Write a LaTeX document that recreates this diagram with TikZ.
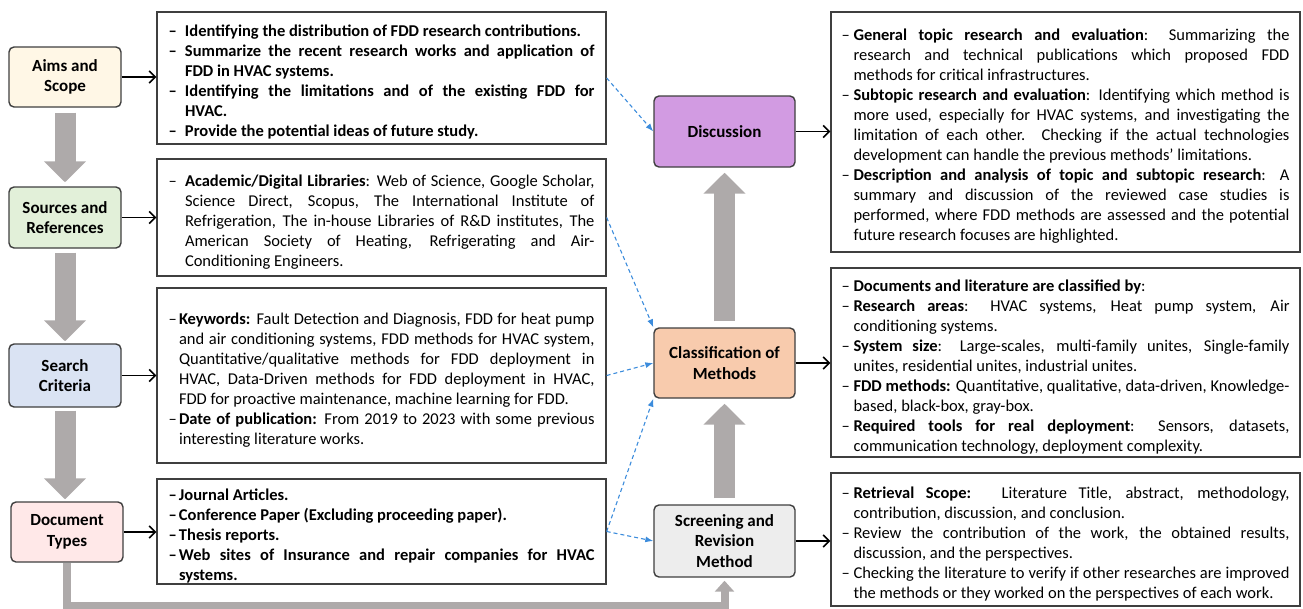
\documentclass[tikz,border=0pt]{standalone}
\usepackage{fontspec}
\setmainfont{Carlito}
\usetikzlibrary{arrows.meta}
\definecolor{aimsc}{HTML}{FFF7E6}
\definecolor{srcc}{HTML}{E2F0D9}
\definecolor{srchc}{HTML}{DAE3F3}
\definecolor{docc}{HTML}{FFE8E8}
\definecolor{discc}{HTML}{D29BE2}
\definecolor{classc}{HTML}{F8CBAD}
\definecolor{scrc}{HTML}{EDEDED}
\definecolor{arrgray}{HTML}{AEAAAA}
\definecolor{bluec}{HTML}{3C8CDC}
\definecolor{edgec}{HTML}{3F3F3F}
\newcommand{\hitem}[2]{\par\hangindent=#1\hangafter=1\noindent\makebox[#1][l]{–}#2\par}
\newcommand{\bodyfont}{\fontsize{16.5}{20}\selectfont}
\tikzset{
  lbox/.style={draw=edgec, line width=1.4pt, rounded corners=5pt, align=center,
    font=\bfseries\fontsize{17}{20.5}\selectfont, inner sep=0pt},
  tbox/.style={draw=edgec, line width=1.3pt, rectangle, inner sep=0pt, align=justify,
    font=\bodyfont,
    execute at begin node={\tolerance=10000\hyphenpenalty=10000\exhyphenpenalty=10000\parindent=0pt}},
  blockarr/.style={draw=arrgray, line width=21pt, -{Triangle[length=21pt,width=41pt]}},
  grayline/.style={draw=arrgray, line width=8pt, -{Triangle[length=11pt,width=19pt]}},
  blk/.style={draw=black, line width=1.6pt, -{Straight Barb[length=6pt,width=12pt]}},
  bluedash/.style={draw=bluec, line width=1.1pt, dash pattern=on 4pt off 3pt, -{Latex[length=8pt,width=6pt]}}
}
\begin{document}
\begin{tikzpicture}[x=1pt,y=-1pt]
\useasboundingbox (0,0) rectangle (1303,608);
% left column
\node[lbox, fill=aimsc, minimum width=112pt, minimum height=60pt] (aims) at (65,77) {Aims and\\Scope};
\node[lbox, fill=srcc, minimum width=112pt, minimum height=61pt] (src) at (65,217.5) {Sources and\\References};
\node[lbox, fill=srchc, minimum width=112pt, minimum height=63pt] (srch) at (65,375.5) {Search\\Criteria};
\node[lbox, fill=docc, minimum width=112pt, minimum height=60pt] (doc) at (67,532) {Document\\Types};
% middle column
\node[lbox, fill=discc, minimum width=141pt, minimum height=71pt] (disc) at (724.5,131.5) {Discussion};
\node[lbox, fill=classc, minimum width=141pt, minimum height=70pt] (class) at (724.5,363) {Classification of\\Methods};
\node[lbox, fill=scrc, minimum width=141pt, minimum height=72pt] (scr) at (724.5,541) {Screening and\\Revision\\Method};
% left text boxes
\node[tbox, font=\bfseries\bodyfont, minimum width=449pt, minimum height=132pt, text width=426pt] (t1) at (381.5,78) {%
\hitem{16.5pt}{Identifying the distribution of FDD research contributions.}
\hitem{16.5pt}{Summarize the recent research works and application of \linebreak FDD in HVAC systems.}
\hitem{16.5pt}{Identifying the limitations and of the existing FDD for \linebreak HVAC.}
\hitem{16.5pt}{Provide the potential ideas of future study.}};
\node[tbox, minimum width=449pt, minimum height=117pt, text width=426pt] (t2) at (381.5,217.5) {%
\hitem{16.5pt}{\textbf{Academic/Digital Libraries}: Web of Science, Google Scholar, \linebreak Science Direct, Scopus, The International Institute of \linebreak Refrigeration, The in-house Libraries of R\&D institutes, The \linebreak American Society of Heating, Refrigerating and Air-\linebreak Conditioning Engineers.}};
\node[tbox, minimum width=449pt, minimum height=175pt, text width=426pt] (t3) at (381.5,375.5) {%
\hitem{10.5pt}{\textbf{Keywords:} Fault Detection and Diagnosis, FDD for heat pump \linebreak and air conditioning systems, FDD methods for HVAC system, \linebreak Quantitative/qualitative methods for FDD deployment in \linebreak HVAC, Data-Driven methods for FDD deployment in HVAC, \linebreak FDD for proactive maintenance, machine learning for FDD.}
\hitem{10.5pt}{\textbf{Date of publication:} From 2019 to 2023 with some previous \linebreak interesting literature works.}};
\node[tbox, font=\bfseries\bodyfont, minimum width=449pt, minimum height=105pt, text width=426pt] (t4) at (381.5,531.5) {%
\hitem{10.5pt}{Journal Articles.}
\hitem{10.5pt}{Conference Paper (Excluding proceeding paper).}
\hitem{10.5pt}{Thesis reports.}
\hitem{10.5pt}{Web sites of Insurance and repair companies for HVAC \linebreak systems.}};
% right text boxes
\node[tbox, minimum width=469pt, minimum height=240pt, text width=448pt] (r1) at (1065.5,132) {%
\hitem{12pt}{\textbf{General topic research and evaluation}: Summarizing the \linebreak research and technical publications which proposed FDD \linebreak methods for critical infrastructures.}
\hitem{12pt}{\textbf{Subtopic research and evaluation}: Identifying which method is \linebreak more used, especially for HVAC systems, and investigating the \linebreak limitation of each other. Checking if the actual technologies \linebreak development can handle the previous methods’ limitations.}
\hitem{12pt}{\textbf{Description and analysis of topic and subtopic research}: A \linebreak summary and discussion of the reviewed case studies is \linebreak performed, where FDD methods are assessed and the potential \linebreak future research focuses are highlighted.}};
\node[tbox, minimum width=469pt, minimum height=189pt, text width=448pt] (r2) at (1065.5,362.5) {%
\hitem{12pt}{\textbf{Documents and literature are classified by}:}
\hitem{12pt}{\textbf{Research areas}: HVAC systems, Heat pump system, Air \linebreak conditioning systems.}
\hitem{12pt}{\textbf{System size}: Large-scales, multi-family unites, Single-family \linebreak unites, residential unites, industrial unites.}
\hitem{12pt}{\textbf{FDD methods:} Quantitative, qualitative, data-driven, Knowledge-\linebreak based, black-box, gray-box.}
\hitem{12pt}{\textbf{Required tools for real deployment}: Sensors, datasets, \linebreak communication technology, deployment complexity.}};
\node[tbox, minimum width=469pt, minimum height=133pt, text width=448pt] (r3) at (1065.5,539.5) {%
\hitem{12pt}{\textbf{Retrieval Scope:}\hspace{10pt} Literature Title, abstract, methodology, \linebreak contribution, discussion, and conclusion.}
\hitem{12pt}{Review the contribution of the work, the obtained results, \linebreak discussion, and the perspectives.}
\hitem{12pt}{Checking the literature to verify if other researches are improved \linebreak the methods or they worked on the perspectives of each work.}};
% gray block arrows
\draw[blockarr, shorten <=5pt, shorten >=4pt] (aims.south) -- (src.north);
\draw[blockarr, shorten <=4pt, shorten >=2pt] (src.south) -- (srch.north);
\draw[blockarr, shorten <=3pt, shorten >=2pt] (srch.south) -- (srch.south |- doc.north);
\draw[blockarr, shorten <=6pt, shorten >=5pt] (class.north) -- (disc.south);
\draw[blockarr, shorten <=6pt, shorten >=5pt] (scr.north) -- (class.south);
\draw[grayline, shorten >=3pt] (doc.south) -- ++(0,43) -| (scr.south);
% black arrows
\draw[blk] (aims.east) -- (aims.east -| t1.west);
\draw[blk] (src.east) -- (src.east -| t2.west);
\draw[blk] (srch.east) -- (srch.east -| t3.west);
\draw[blk] (doc.east) -- (doc.east -| t4.west);
\draw[blk] (disc.east) -- (disc.east -| r1.west);
\draw[blk] (class.east) -- (class.east -| r2.west);
\draw[blk] (scr.east) -- (scr.east -| r3.west);
% blue dashed arrows
\draw[bluedash] (t1.east) -- (disc.west);
\draw[bluedash] (t2.east) -- (class.north west);
\draw[bluedash] (t3.east) -- (class.west);
\draw[bluedash] (t4.east) -- (class.south west);
\draw[bluedash] (t4.east) -- (scr.west);
\end{tikzpicture}
\end{document}
